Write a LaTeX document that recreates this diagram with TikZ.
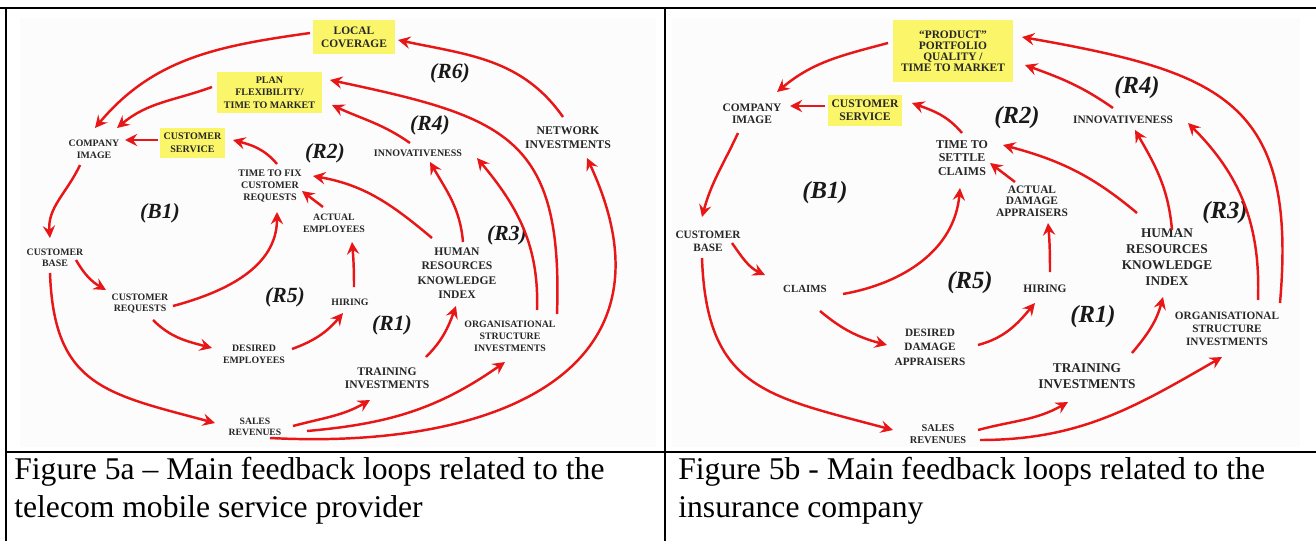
\documentclass[tikz,border=0pt]{standalone}
\usepackage{fontspec}
\setmainfont{Liberation Serif}
\usetikzlibrary{arrows.meta,calc}
\definecolor{arrred}{RGB}{232,22,22}
\definecolor{boxyel}{RGB}{250,245,105}
\newcommand{\fz}[2]{\fontsize{#1}{#2}\selectfont}
\tikzset{
  lbl/.style={align=center,inner sep=0pt,text=black!85},
  ybox/.style={fill=boxyel,align=center,inner sep=0pt,text=black!85},
  looplbl/.style={inner sep=0pt,text=black!90},
  arr/.style={draw=arrred,line width=1.4pt,-{Stealth[length=7pt,width=7pt,inset=2.5pt]}},
  frame/.style={line width=1.2pt,draw=black},
}
\begin{document}
\begin{tikzpicture}[x=0.02cm,y=0.02cm]
\useasboundingbox (0,0) rectangle (1316,-541);
% panel backgrounds
\fill[black!1] (20,-18) rectangle (656,-447);
\fill[black!1] (672,-18) rectangle (1300,-447);
% table frame
\draw[frame] (0,-8) -- (1316,-8);
\draw[frame] (6,-8) -- (6,-541);
\draw[frame] (665,-8) -- (665,-541);
\draw[frame] (6,-452) -- (1316,-452);

% ===== LEFT PANEL =====
\node[ybox,minimum width=1.64cm,minimum height=0.70cm,font={\bfseries\fz{6.5}{7.4}}] (lc) at (354,-37) {LOCAL\\COVERAGE};
\node[ybox,minimum width=2.1cm,minimum height=0.82cm,font={\bfseries\fz{5.7}{7.1}}] (pf) at (269.5,-92.5) {PLAN\\FLEXIBILITY/\\TIME TO MARKET};
\node[ybox,minimum width=1.3cm,minimum height=0.6cm,font={\bfseries\fz{5.7}{7.2}}] (cs) at (192.5,-143) {CUSTOMER\\SERVICE};
\node[lbl,font={\bfseries\fz{5.6}{6.8}}] (ci) at (94,-149) {COMPANY\\IMAGE};
\node[lbl,font={\bfseries\fz{5.7}{6.8}}] (tf) at (270,-186) {TIME TO FIX\\CUSTOMER\\REQUESTS};
\node[lbl,font={\bfseries\fz{5.6}{6.3}}] (cb) at (55,-258) {CUSTOMER\\BASE};
\node[lbl,font={\bfseries\fz{5.6}{6.3}}] (cr) at (140,-304) {CUSTOMER\\REQUESTS};
\node[lbl,font={\bfseries\fz{5.6}{6.8}}] (de) at (254,-354) {DESIRED\\EMPLOYEES};
\node[lbl,font={\bfseries\fz{5.5}{6.3}}] (sr) at (255,-427) {SALES\\REVENUES};
\node[lbl,font={\bfseries\fz{5.6}{6.8}}] (ae) at (334,-223) {ACTUAL\\EMPLOYEES};
\node[lbl,font={\bfseries\fz{5.6}{6.8}}] (hi) at (350,-302) {HIRING};
\node[lbl,font={\bfseries\fz{6.6}{8.2}}] (hr) at (457,-273) {HUMAN\\RESOURCES\\KNOWLEDGE\\INDEX};
\node[lbl,font={\bfseries\fz{6.6}{7.4}}] (ti) at (387,-378) {TRAINING\\INVESTMENTS};
\node[lbl,font={\bfseries\fz{5.6}{6.8}}] (or) at (510,-336) {ORGANISATIONAL\\STRUCTURE\\INVESTMENTS};
\node[lbl,font={\bfseries\fz{5.7}{6.8}}] (in) at (418,-153) {INNOVATIVENESS};
\node[lbl,font={\bfseries\fz{6.7}{8}}] (ni) at (568,-138) {NETWORK\\INVESTMENTS};

\node[looplbl,font={\bfseries\itshape\fz{12.3}{14}}] (lR6) at (450,-73) {(R6)};
\node[looplbl,font={\bfseries\itshape\fz{12.3}{14}}] (lR4) at (430,-125) {(R4)};
\node[looplbl,font={\bfseries\itshape\fz{12.3}{14}}] (lR2) at (325,-153) {(R2)};
\node[looplbl,font={\bfseries\itshape\fz{12.3}{14}}] (lB1) at (160,-213) {(B1)};
\node[looplbl,font={\bfseries\itshape\fz{12.3}{14}}] (lR5) at (285,-297) {(R5)};
\node[looplbl,font={\bfseries\itshape\fz{12.3}{14}}] (lR3) at (507,-235) {(R3)};
\node[looplbl,font={\bfseries\itshape\fz{12.3}{14}}] (lR1) at (392,-325) {(R1)};

\draw[arr] ($(lc)+(-44,4)$) to[out=188,in=50] ($(ci)+(1,21)$);
\draw[arr] ($(pf)+(-57.5,5.5)$) to[out=200,in=40] ($(ci)+(23,21)$);
\draw[arr] ($(cs)+(-34.5,3)$) -- ($(ci)+(31,9)$);
\draw[arr] ($(tf)+(7,22)$) to[out=130,in=-15] ($(cs)+(40.5,3)$);
\draw[arr] ($(ci)+(-14,-16)$) to[out=-115,in=95] ($(cb)+(-5,20)$);
\draw[arr] ($(cb)+(21,-2)$) to[out=-60,in=150] ($(cr)+(-34,14)$);
\draw[arr] ($(cr)+(33,-2)$) to[out=15,in=-90] ($(tf)+(7,-26)$);
\draw[arr] ($(cr)+(13,-16)$) to[out=-45,in=165] ($(de)+(-42,6)$);
\draw[arr] ($(de)+(38,5)$) to[out=20,in=-130] ($(hi)+(-7,-11)$);
\draw[arr] ($(hi)+(4,15)$) to[out=90,in=-85] ($(ae)+(18,-19)$);
\draw[arr] ($(ae)+(-11,16)$) -- ($(tf)+(32,-5)$);
\draw[arr] ($(hr)+(-25,35)$) to[out=140,in=-10] ($(tf)+(43,10)$);
\draw[arr] ($(hr)+(6,31)$) to[out=95,in=-60] ($(in)+(12,-9)$);
\draw[arr] ($(in)+(-8,10)$) to[out=145,in=-25] ($(pf)+(62.5,-12.5)$);
\draw[arr] ($(ni)+(-5,21)$) to[out=125,in=-12] ($(lc)+(44,-3)$);
\draw[arr] ($(or)+(27,26)$) to[out=88,in=-50] ($(in)+(59,-5)$);
\draw[arr] ($(or)+(47,22)$) to[out=88,in=-12,looseness=1.4] ($(pf)+(60.5,12.5)$);
\draw[arr] ($(sr)+(38,1)$) to[out=15,in=-150] ($(ti)+(-17,-22)$);
\draw[arr] ($(sr)+(52,-4)$) to[out=5,in=-145] ($(or)+(-5,-26)$);
\draw[arr] ($(sr)+(15,-11)$) to[out=-3,in=-65,looseness=1.4] ($(ni)+(19,-20)$);
\draw[arr] ($(ti)+(39,21)$) to[out=45,in=-110] ($(hr)+(-1,-33)$);
\draw[arr] ($(cb)+(-5,-15)$) to[out=-88,in=165,looseness=1.3] ($(sr)+(-40,4)$);

% ===== RIGHT PANEL =====
\node[ybox,minimum width=2.4cm,minimum height=1.24cm,font={\bfseries\fz{6.5}{6.3}}] (pp) at (953,-51) {“PRODUCT”\\PORTFOLIO\\QUALITY /\\TIME TO MARKET};
\node[ybox,minimum width=1.48cm,minimum height=0.62cm,font={\bfseries\fz{6.6}{7.4}}] (cs2) at (865,-110.5) {CUSTOMER\\SERVICE};
\node[lbl,font={\bfseries\fz{6.5}{6.8}}] (ci2) at (752,-114) {COMPANY\\IMAGE};
\node[lbl,font={\bfseries\fz{6.8}{7.6}}] (ts) at (962,-158) {TIME TO\\SETTLE\\CLAIMS};
\node[lbl,font={\bfseries\fz{6.4}{7.4}}] (cb2) at (708,-241) {CUSTOMER\\BASE};
\node[lbl,font={\bfseries\fz{6.2}{7}}] (cl) at (805,-289) {CLAIMS};
\node[lbl,font={\bfseries\fz{6.4}{8.2}}] (dd) at (930,-347) {DESIRED\\DAMAGE\\APPRAISERS};
\node[lbl,font={\bfseries\fz{5.9}{6.8}}] (sr2) at (938,-434) {SALES\\REVENUES};
\node[lbl,font={\bfseries\fz{6.5}{7}}] (hi2) at (1045,-289) {HIRING};
\node[lbl,font={\bfseries\fz{6.5}{6.5}}] (ad) at (1032,-201) {ACTUAL\\DAMAGE\\APPRAISERS};
\node[lbl,font={\bfseries\fz{6.45}{7}}] (in2) at (1123,-120) {INNOVATIVENESS};
\node[lbl,font={\bfseries\fz{7.6}{9}}] (hr2) at (1167,-257) {HUMAN\\RESOURCES\\KNOWLEDGE\\INDEX};
\node[lbl,font={\bfseries\fz{7.6}{9}}] (ti2) at (1087,-376) {TRAINING\\INVESTMENTS};
\node[lbl,font={\bfseries\fz{6.4}{7.6}}] (or2) at (1227,-329) {ORGANISATIONAL\\STRUCTURE\\INVESTMENTS};

\node[looplbl,font={\bfseries\itshape\fz{14}{16}}] (rR4) at (1137,-88) {(R4)};
\node[looplbl,font={\bfseries\itshape\fz{14}{16}}] (rR2) at (1017,-118) {(R2)};
\node[looplbl,font={\bfseries\itshape\fz{14}{16}}] (rB1) at (825,-193) {(B1)};
\node[looplbl,font={\bfseries\itshape\fz{14}{16}}] (rR5) at (970,-283) {(R5)};
\node[looplbl,font={\bfseries\itshape\fz{14}{16}}] (rR3) at (1225,-213) {(R3)};
\node[looplbl,font={\bfseries\itshape\fz{14}{16}}] (rR1) at (1093,-317) {(R1)};

\draw[arr] ($(pp)+(-65,8)$) to[out=195,in=40] ($(ci2)+(25,22)$);
\draw[arr] ($(cs2)+(-40,4.5)$) -- ($(ci2)+(38,8)$);
\draw[arr] ($(ts)+(0,25)$) to[out=130,in=-20] ($(cs2)+(47,7.5)$);
\draw[arr] ($(ci2)+(-14,-19)$) to[out=-115,in=75] ($(cb2)+(-6,24)$);
\draw[arr] ($(cb2)+(24,-2)$) to[out=-55,in=155] ($(cl)+(-40,14)$);
\draw[arr] ($(cl)+(38,-5)$) to[out=10,in=-95] ($(ts)+(-2,-30)$);
\draw[arr] ($(cl)+(15,-22)$) to[out=-40,in=165] ($(dd)+(-43,2)$);
\draw[arr] ($(dd)+(48,2)$) to[out=15,in=-130] ($(hi2)+(-10,-14)$);
\draw[arr] ($(hi2)+(5,17)$) to[out=90,in=-85] ($(ad)+(16,-22)$);
\draw[arr] ($(ad)+(-17,19)$) -- ($(ts)+(28,-5)$);
\draw[arr] ($(hr2)+(-30,44)$) to[out=140,in=-15] ($(ts)+(41,13)$);
\draw[arr] ($(hr2)+(5,27)$) to[out=95,in=-60] ($(in2)+(12,-10)$);
\draw[arr] ($(in2)+(-10,12)$) to[out=145,in=-20] ($(pp)+(72,-14)$);
\draw[arr] ($(or2)+(31,29)$) to[out=88,in=-45] ($(in2)+(65,-3)$);
\draw[arr] ($(or2)+(53,26)$) to[out=85,in=-10,looseness=1.4] ($(pp)+(69,14)$);
\draw[arr] ($(ti2)+(45,23)$) to[out=50,in=-105] ($(hr2)+(-4,-40)$);
\draw[arr] ($(sr2)+(40,4)$) to[out=15,in=-150] ($(ti2)+(-19,-26)$);
\draw[arr] ($(sr2)+(42,-6)$) to[out=0,in=-150] ($(or2)+(-5,-28)$);
\draw[arr] ($(cb2)+(-6,-17)$) to[out=-88,in=165,looseness=1.3] ($(sr2)+(-45,4)$);

% ===== CAPTIONS =====
\node[anchor=west,align=left,inner sep=0pt,font={\fz{18}{21.5}}] (cap1) at (14,-491) {Figure 5a – Main feedback loops related to the\\telecom mobile service provider};
\node[anchor=west,align=left,inner sep=0pt,font={\fz{18}{21.5}}] (cap2) at (678,-491) {Figure 5b - Main feedback loops related to the\\insurance company};
\end{tikzpicture}
\end{document}
